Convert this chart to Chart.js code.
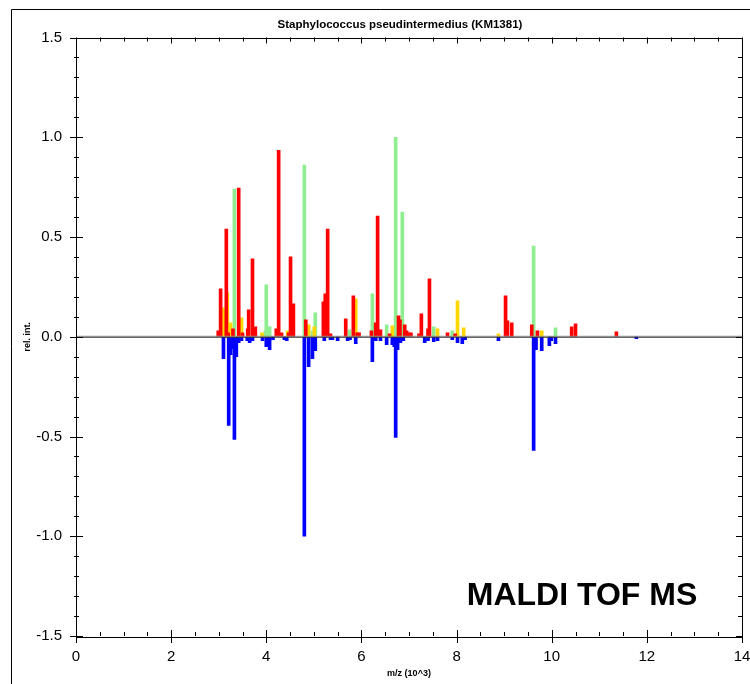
<!DOCTYPE html>
<html>
<head>
<meta charset="utf-8">
<script src="https://cdn.jsdelivr.net/npm/chart.js@4/dist/chart.umd.min.js"></script>
<style>
  html, body { margin: 0; padding: 0; background: #fff; }
  canvas { display: block; }
</style>
</head>
<body>
<canvas id="chart" width="750" height="684"></canvas>
<script>
// peaks (m/z in 10^3, relative intensity)
var redMz = [2.99, 3.04, 3.16, 3.20, 3.30, 3.42, 3.50, 3.61, 3.63, 3.71, 3.77, 4.21, 4.26, 4.32, 4.47, 4.51, 4.57, 4.83,
  5.20, 5.24, 5.29, 5.35, 5.67, 5.83, 5.91, 5.95, 6.21, 6.30, 6.34, 6.40, 6.59, 6.78, 6.81, 6.91, 6.95, 7.00, 7.04,
  7.21, 7.26, 7.40, 7.43, 7.81, 7.97, 9.03, 9.07, 9.16, 9.58, 9.70, 10.42, 10.50, 11.36];
var redInt = [0.03, 0.24, 0.54, 0.02, 0.04, 0.745, 0.02, 0.04, 0.135, 0.39, 0.05, 0.04, 0.935, 0.02, 0.02, 0.40, 0.165, 0.085,
  0.175, 0.215, 0.54, 0.015, 0.09, 0.205, 0.02, 0.02, 0.03, 0.07, 0.605, 0.035, 0.015, 0.105, 0.085, 0.06, 0.03, 0.02, 0.02,
  0.015, 0.115, 0.04, 0.29, 0.02, 0.015, 0.205, 0.08, 0.07, 0.06, 0.03, 0.05, 0.065, 0.025];

var yellowMz = [3.10, 3.18, 3.25, 3.48, 3.91, 4.45, 4.89, 5.01, 5.88, 6.65, 7.60, 8.02, 8.15, 8.88, 9.79];
var yellowInt = [0.145, 0.22, 0.07, 0.095, 0.02, 0.03, 0.06, 0.05, 0.19, 0.055, 0.04, 0.18, 0.045, 0.015, 0.03];

var greenMz = [3.33, 3.92, 3.98, 4.00, 4.07, 4.80, 4.97, 5.03, 5.75, 6.23, 6.53, 6.72, 6.86, 7.52, 7.91, 9.62, 10.08];
var greenInt = [0.74, 0.015, 0.03, 0.26, 0.05, 0.86, 0.03, 0.12, 0.035, 0.215, 0.06, 1.0, 0.625, 0.05, 0.03, 0.455, 0.045];

var blueMz = [3.10, 3.21, 3.25, 3.30, 3.33, 3.37, 3.42, 3.48, 3.60, 3.65, 3.71, 3.92, 4.00, 4.07, 4.14, 4.38, 4.43,
  4.80, 4.89, 4.97, 5.03, 5.22, 5.35, 5.39, 5.50, 5.71, 5.76, 5.88, 6.23, 6.30, 6.40, 6.53, 6.65, 6.69, 6.72, 6.76,
  6.82, 6.88, 7.33, 7.40, 7.52, 7.60, 7.91, 8.02, 8.12, 8.18, 8.88, 9.62, 9.67, 9.79, 9.95, 9.99, 10.08, 11.78];
var blueInt = [-0.11, -0.445, -0.09, -0.06, -0.515, -0.10, -0.03, -0.02, -0.02, -0.03, -0.02, -0.02, -0.05, -0.065, -0.015, -0.015, -0.02,
  -1.0, -0.15, -0.11, -0.07, -0.02, -0.015, -0.015, -0.02, -0.02, -0.015, -0.035, -0.125, -0.02, -0.02, -0.04, -0.04, -0.05, -0.505, -0.065,
  -0.03, -0.02, -0.03, -0.02, -0.025, -0.02, -0.015, -0.03, -0.035, -0.015, -0.02, -0.57, -0.065, -0.07, -0.045, -0.02, -0.035, -0.01];

var chartTitle = 'Staphylococcus pseudintermedius (KM1381)';
var xTitle = 'm/z (10^3)';
var yTitle = 'rel. int.';
var stamp = 'MALDI TOF MS';

var tickFont = "'Liberation Sans Narrow', 'Liberation Sans', Arial, sans-serif";
var boldFont = "'Liberation Sans', Arial, sans-serif";

function pts(xs, ys) {
  return xs.map(function (x, i) { return { x: x, y: ys[i] }; });
}

function peaks(label, xs, ys, color) {
  return {
    label: label,
    data: pts(xs, ys),
    backgroundColor: color,
    borderWidth: 0,
    barThickness: 3,
    grouped: false
  };
}

// frame, inward tick marks, zero line, outer box, title and the stamp text
var decor = {
  id: 'decor',
  afterDatasetsDraw: function (chart) {
    var c = chart.ctx, a = chart.chartArea, xs = chart.scales.x, ys = chart.scales.y;
    c.save();
    c.strokeStyle = '#000';
    c.lineWidth = 1;

    // outer box
    c.beginPath();
    c.moveTo(11.5, 684);
    c.lineTo(11.5, 9.5);
    c.lineTo(750, 9.5);
    c.stroke();

    // zero line
    var z = ys.getPixelForValue(0);
    c.strokeStyle = '#9a9a9a';
    c.beginPath(); c.moveTo(a.left, z - 0.5); c.lineTo(a.right, z - 0.5); c.stroke();
    c.strokeStyle = '#333';
    c.beginPath(); c.moveTo(a.left, z + 0.5); c.lineTo(a.right, z + 0.5); c.stroke();

    // plot frame
    c.strokeStyle = '#000';
    c.strokeRect(Math.round(a.left) + 0.5, Math.round(a.top) + 0.5,
      Math.round(a.right - a.left), Math.round(a.bottom - a.top));

    c.beginPath();
    var v, px, major;
    for (v = 0; v <= 14.001; v += 0.5) {
      px = Math.round(xs.getPixelForValue(v)) + 0.5;
      major = Math.abs(v / 2 - Math.round(v / 2)) < 1e-6;
      c.moveTo(px, a.bottom + (major ? 7 : 0));
      c.lineTo(px, a.bottom - (major ? 6 : 4));
      c.moveTo(px, a.top);
      c.lineTo(px, a.top + (major ? 6 : 4));
    }
    for (v = -15; v <= 15; v += 1) {
      px = Math.round(ys.getPixelForValue(v / 10)) + 0.5;
      major = v % 5 === 0;
      c.moveTo(a.left - (major ? 6 : 2), px);
      c.lineTo(a.left + (major ? 7 : 3), px);
      c.moveTo(a.right, px);
      c.lineTo(a.right - (major ? 6 : 4), px);
    }
    c.stroke();

    c.fillStyle = '#000';
    c.textAlign = 'center';
    c.textBaseline = 'middle';
    c.font = 'bold 11.5px ' + boldFont;
    c.fillText(chartTitle, 400, 25);

    c.font = 'bold 32px ' + boldFont;
    c.textBaseline = 'alphabetic';
    c.fillText(stamp, 582, 605);
    c.restore();
  }
};

var ctx = document.getElementById('chart').getContext('2d');

new Chart(ctx, {
  type: 'bar',
  data: {
    datasets: [
      peaks('sample A', redMz, redInt, '#ff0000'),
      peaks('sample B', yellowMz, yellowInt, '#ffd700'),
      peaks('sample C', greenMz, greenInt, '#90ee90'),
      peaks('reference', blueMz, blueInt, '#0000ff')
    ]
  },
  options: {
    responsive: false,
    animation: false,
    layout: { padding: { left: 0, right: 8, top: 37.5, bottom: 0 } },
    plugins: {
      legend: { display: false },
      tooltip: { enabled: false },
      title: { display: false }
    },
    scales: {
      x: {
        type: 'linear',
        offset: false,
        min: 0,
        max: 14,
        grid: { display: false, drawTicks: false, offset: false },
        border: { display: false },
        ticks: {
          stepSize: 2,
          padding: 12,
          color: '#000',
          font: { family: tickFont, size: 15 },
          maxRotation: 0
        },
        title: {
          display: true,
          text: xTitle,
          color: '#000',
          font: { family: boldFont, size: 9, weight: 'bold' },
          padding: { top: 0, bottom: 5 }
        },
        afterFit: function (s) {
          s.height = 48;
          s.paddingLeft = 0;
          s.paddingRight = 0;
        }
      },
      y: {
        min: -1.5,
        max: 1.5,
        grid: { display: false, drawTicks: false },
        border: { display: false },
        ticks: {
          stepSize: 0.5,
          padding: 14,
          color: '#000',
          font: { family: tickFont, size: 15 },
          callback: function (v) { return v.toFixed(1); }
        },
        title: {
          display: true,
          text: yTitle,
          color: '#000',
          font: { family: boldFont, size: 9, weight: 'bold' },
          padding: { top: 22, bottom: 0 }
        },
        afterFit: function (s) {
          s.width = 76;
          s.paddingTop = 0;
          s.paddingBottom = 0;
        }
      }
    }
  },
  plugins: [decor]
});
</script>
</body>
</html>
